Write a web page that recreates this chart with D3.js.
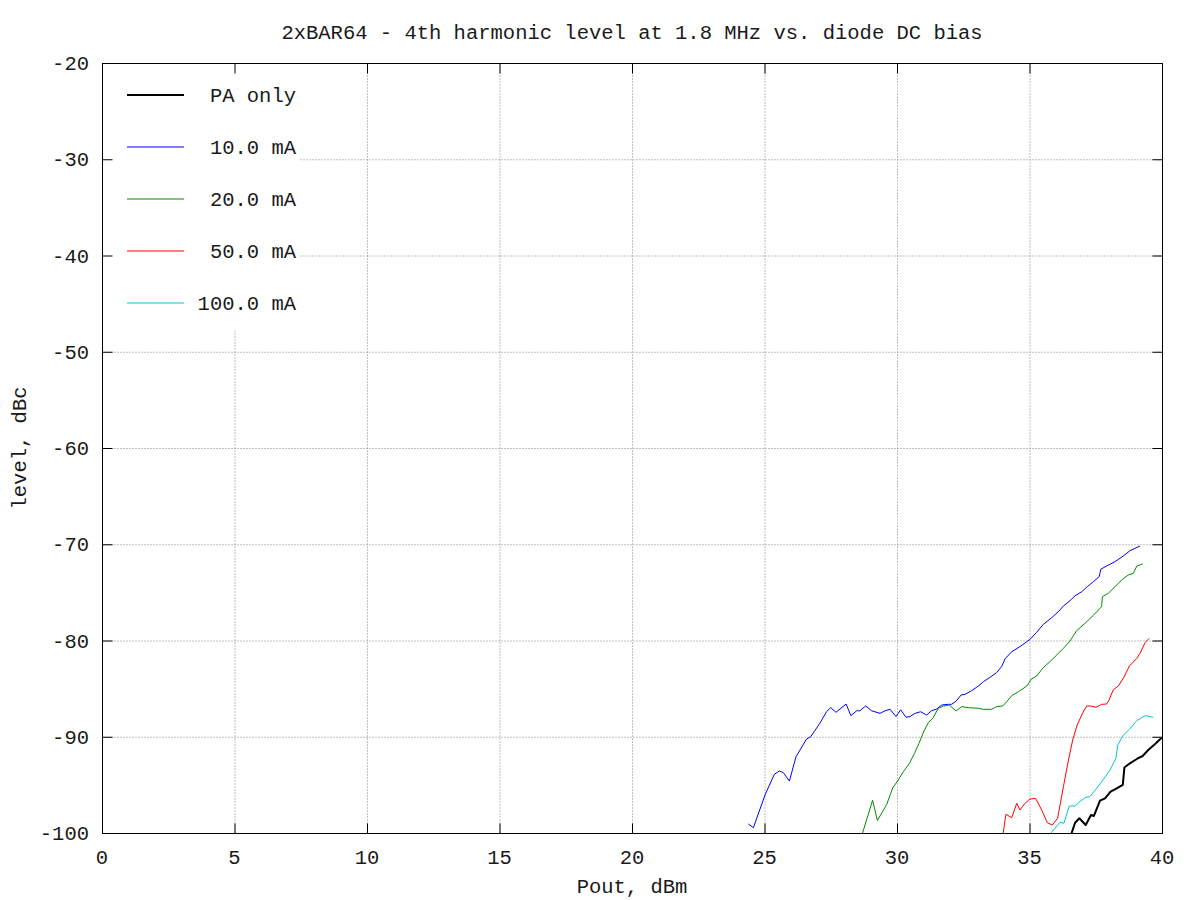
<!DOCTYPE html>
<html>
<head>
<meta charset="utf-8">
<script src="https://cdn.jsdelivr.net/npm/d3@7"></script>
<style>
  html, body { margin: 0; padding: 0; background: #fff; }
  svg { display: block; }
  text { font-family: "Liberation Mono", "Courier New", monospace; font-size: 20.5px; fill: #1a1a1a; }
</style>
</head>
<body>
<script>
// ---------- data ----------
const title = "2xBAR64 - 4th harmonic level at 1.8 MHz vs. diode DC bias";
const xLabel = "Pout, dBm";
const yLabel = "level, dBc";
const xTicks = [0, 5, 10, 15, 20, 25, 30, 35, 40];
const yTicks = [-20, -30, -40, -50, -60, -70, -80, -90, -100];

const seriesNames = ["PA only", "10.0 mA", "20.0 mA", "50.0 mA", "100.0 mA"];
const seriesColors = ["#000000", "#0000ff", "#008c00", "#ff0000", "#00c8c8"];
const seriesWidths = [2, 1, 1, 1, 1];

const paOnlyX = [36.59,36.72,36.88,37.12,37.32,37.43,37.66,37.85,38.06,38.29,38.52,38.58,38.79,39.05,39.27,39.48,39.74,39.99];
const paOnlyY = [-100.0,-98.93,-98.47,-99.17,-98.13,-98.23,-96.64,-96.4,-95.71,-95.36,-95.01,-93.2,-92.76,-92.31,-92.0,-91.38,-90.75,-90.1];

const ma10X = [24.39,24.58,25.02,25.37,25.56,25.71,25.94,26.19,26.59,26.74,27.09,27.34,27.5,27.7,28.08,28.26,28.48,28.6,28.82,29.04,29.36,29.55,29.74,29.96,30.14,30.34,30.49,30.68,30.89,31.12,31.31,31.5,31.69,31.94,32.06,32.25,32.42,32.57,32.82,33.07,33.26,33.51,33.76,33.95,34.08,34.33,34.64,35.02,35.27,35.52,35.84,36.09,36.28,36.53,36.72,36.97,37.18,37.41,37.63,37.69,37.91,38.23,38.54,38.79,38.98,39.17];
const ma10Y = [-99.06,-99.45,-96.05,-93.9,-93.56,-93.73,-94.6,-92.07,-90.23,-90.0,-88.6,-87.4,-86.98,-87.46,-86.6,-87.81,-87.3,-87.3,-86.8,-87.3,-87.57,-87.3,-87.15,-87.9,-87.2,-87.98,-87.9,-87.57,-87.4,-87.74,-87.29,-87.12,-86.7,-86.63,-86.63,-86.25,-85.66,-85.59,-85.21,-84.73,-84.28,-83.83,-83.34,-82.7,-81.9,-81.16,-80.64,-79.88,-79.15,-78.32,-77.63,-77.0,-76.42,-75.86,-75.35,-74.93,-74.41,-73.89,-73.37,-72.6,-72.26,-71.8,-71.22,-70.67,-70.42,-70.18];

const ma20X = [28.7,29.08,29.26,29.61,29.84,30.05,30.24,30.47,30.66,30.83,31.02,31.18,31.35,31.56,31.75,31.97,32.23,32.44,32.69,33.07,33.26,33.57,33.76,33.99,34.14,34.33,34.58,34.9,35.06,35.27,35.52,35.77,36.03,36.28,36.53,36.78,37.09,37.41,37.72,37.75,37.97,38.23,38.48,38.73,38.92,39.05,39.27];
const ma20Y = [-100.0,-96.6,-98.7,-97.05,-95.3,-94.49,-93.62,-92.76,-91.72,-90.68,-89.4,-88.54,-88.08,-87.05,-86.81,-86.7,-87.32,-86.87,-86.98,-87.04,-87.15,-87.15,-86.87,-86.8,-86.35,-85.73,-85.32,-84.73,-84.03,-83.69,-82.82,-82.2,-81.5,-80.81,-80.05,-78.98,-78.22,-77.38,-76.49,-75.45,-75.1,-74.41,-73.71,-73.19,-73.02,-72.26,-72.05];

const ma50X = [33.98,34.11,34.33,34.52,34.64,34.83,35.02,35.23,35.46,35.67,35.86,36.06,36.28,36.47,36.63,36.8,37.01,37.16,37.3,37.51,37.72,37.91,37.99,38.16,38.35,38.54,38.77,39.05,39.17,39.36,39.52];
const ma50Y = [-100.5,-98.06,-98.4,-96.92,-97.61,-96.92,-96.47,-96.4,-97.61,-98.93,-99.17,-98.47,-95.19,-92.42,-90.34,-88.78,-87.5,-86.81,-86.81,-86.94,-86.63,-86.6,-86.25,-85.14,-84.73,-83.93,-82.65,-81.85,-81.33,-80.23,-79.77];

const ma100X = [35.81,35.96,36.15,36.3,36.5,36.72,36.93,37.13,37.28,37.54,37.79,38.04,38.26,38.33,38.54,38.77,39.05,39.36,39.67];
const ma100Y = [-100.0,-99.5,-98.89,-98.99,-97.19,-97.19,-96.67,-96.29,-96.22,-95.35,-94.42,-93.45,-92.24,-90.86,-89.82,-89.23,-88.33,-87.81,-87.98];

const seriesX = [paOnlyX, ma10X, ma20X, ma50X, ma100X];
const seriesY = [paOnlyY, ma10Y, ma20Y, ma50Y, ma100Y];

// ---------- layout ----------
const W = 1200, H = 900;
const L = 102, R = 1162, T = 63, B = 833;

const svg = d3.select("body").append("svg").attr("width", W).attr("height", H);
svg.append("rect").attr("width", W).attr("height", H).attr("fill", "#fff");

const x = d3.scaleLinear().domain([0, 40]).range([L, R]);
const y = d3.scaleLinear().domain([-100, -20]).range([B, T]);

const crisp = svg.append("g").attr("transform", "translate(0.5,0.5)");

// grid
const grid = crisp.append("g");
grid.selectAll("line.gx").data(xTicks.filter(d => d > 0 && d < 40)).enter().append("line")
  .attr("x1", d => x(d)).attr("x2", d => x(d)).attr("y1", T).attr("y2", B)
  .attr("stroke", "#808080").attr("stroke-width", 1).attr("stroke-dasharray", "1,2");
grid.selectAll("line.gy").data(yTicks.filter(d => d > -100 && d < -20)).enter().append("line")
  .attr("y1", d => y(d)).attr("y2", d => y(d)).attr("x1", L).attr("x2", R)
  .attr("stroke", "#808080").attr("stroke-width", 1).attr("stroke-dasharray", "1,2");

// legend background (opaque key area)
const keyW = 196, keyH = 266;
crisp.append("rect").attr("x", L + 1).attr("y", T + 1).attr("width", keyW).attr("height", keyH).attr("fill", "#fff");

// data
svg.append("clipPath").attr("id", "plotclip").append("rect")
  .attr("x", L).attr("y", T).attr("width", R - L).attr("height", B - T);
const lineGen = d3.line().x(d => x(d[0])).y(d => y(d[1]));
const plotG = svg.append("g").attr("clip-path", "url(#plotclip)");
const drawOrder = [1, 2, 3, 4, 0];
drawOrder.forEach(i => {
  const pts = seriesX[i].map((v, k) => [v, seriesY[i][k]]);
  plotG.append("path").datum(pts).attr("d", lineGen)
    .attr("fill", "none").attr("stroke", seriesColors[i])
    .attr("stroke-width", seriesWidths[i]).attr("stroke-linejoin", "round");
});

// frame
crisp.append("rect").attr("x", L).attr("y", T).attr("width", R - L).attr("height", B - T)
  .attr("fill", "none").attr("stroke", "#000").attr("stroke-width", 1);

// ticks (inward, mirrored)
const tl = 10;
const tickG = crisp.append("g").attr("stroke", "#000").attr("stroke-width", 1);
xTicks.forEach(d => {
  tickG.append("line").attr("x1", x(d)).attr("x2", x(d)).attr("y1", B).attr("y2", B - tl);
  tickG.append("line").attr("x1", x(d)).attr("x2", x(d)).attr("y1", T).attr("y2", T + tl);
});
yTicks.forEach(d => {
  tickG.append("line").attr("x1", L).attr("x2", L + tl).attr("y1", y(d)).attr("y2", y(d));
  tickG.append("line").attr("x1", R).attr("x2", R - tl).attr("y1", y(d)).attr("y2", y(d));
});

// tick labels
svg.append("g").selectAll("text").data(xTicks).enter().append("text")
  .attr("x", d => x(d)).attr("y", B + 31).attr("text-anchor", "middle").text(d => String(d));
svg.append("g").selectAll("text").data(yTicks).enter().append("text")
  .attr("x", L - 13).attr("y", d => y(d) + 7).attr("text-anchor", "end").text(d => String(d));

// titles
svg.append("text").attr("x", (L + R) / 2).attr("y", 39).attr("text-anchor", "middle").text(title);
svg.append("text").attr("x", (L + R) / 2).attr("y", 893).attr("text-anchor", "middle").text(xLabel);
svg.append("text").attr("transform", `translate(26,${(T + B) / 2}) rotate(-90)`)
  .attr("text-anchor", "middle").text(yLabel);

// legend
const leg = svg.append("g");
seriesNames.forEach((name, i) => {
  const ly = 95 + i * 52;
  leg.append("line").attr("x1", 127).attr("x2", 184).attr("y1", ly).attr("y2", ly)
    .attr("stroke", seriesColors[i]).attr("stroke-width", seriesWidths[i]);
  leg.append("text").attr("x", 296).attr("y", ly + 7).attr("text-anchor", "end").text(name);
});
</script>
</body>
</html>
